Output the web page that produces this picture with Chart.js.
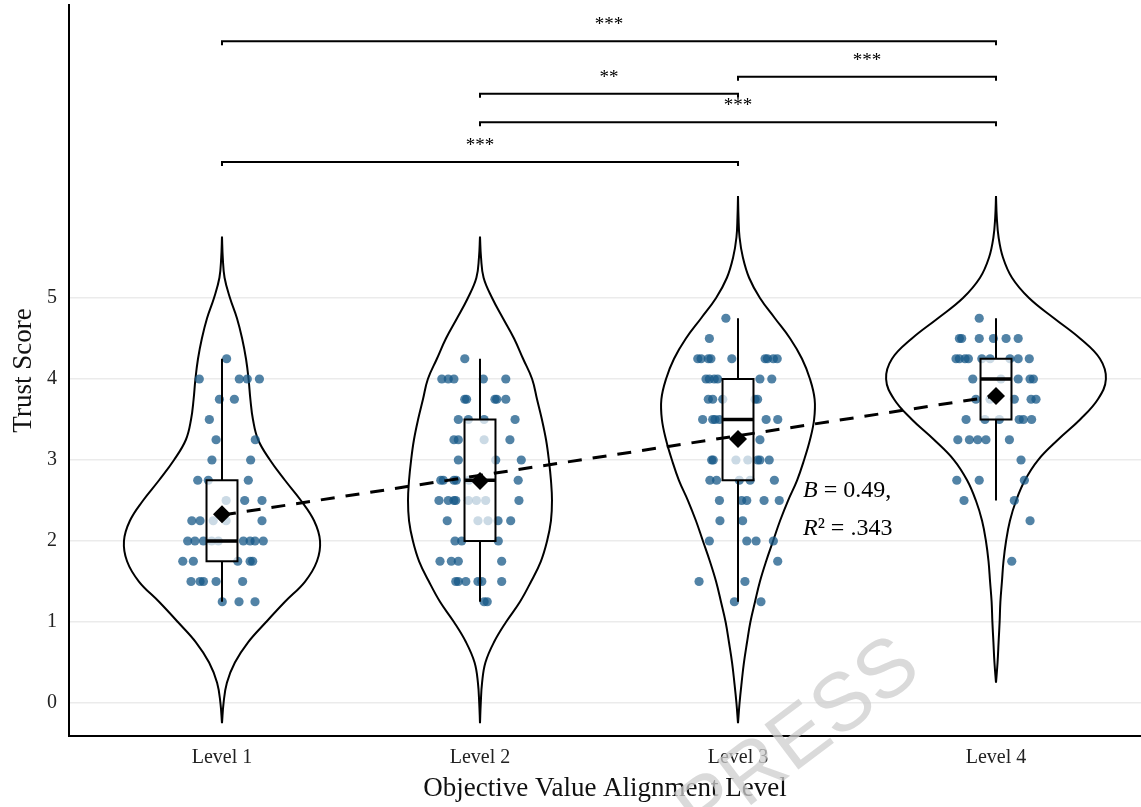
<!DOCTYPE html>
<html>
<head>
<meta charset="utf-8">
<script src="https://cdn.jsdelivr.net/npm/chart.js@4.4.1/dist/chart.umd.min.js"></script>
<style>
  html, body { margin: 0; padding: 0; background: #fff; }
  #wrap { width: 1141px; height: 807px; }
</style>
</head>
<body>
<div id="wrap"><canvas id="trust-chart" width="1141" height="807"></canvas></div>
<script>
const levels = ['Level 1', 'Level 2', 'Level 3', 'Level 4'];
const yTicks = [0, 1, 2, 3, 4, 5];

// individual scores per level + horizontal jitter (in level units)
const l1Score = [4.25, 4, 4, 4, 4, 3.75, 3.75, 3.5, 3.25, 3.25, 3, 3, 2.75, 2.75, 2.75, 2.5, 2.5, 2.5,
  2.25, 2.25, 2.25, 2.25, 2.25, 2, 2, 2, 2, 2, 2, 2, 2, 2, 1.75, 1.75, 1.75, 1.75, 1.75,
  1.5, 1.5, 1.5, 1.5, 1.5, 1.25, 1.25, 1.25];
const l1Jitter = [0.018, -0.088, 0.067, 0.098, 0.145, -0.010, 0.048, -0.049, -0.023, 0.129, -0.039, 0.111,
  -0.094, -0.053, 0.102, 0.016, 0.088, 0.155, -0.117, -0.085, -0.034, 0.016, 0.155,
  -0.133, -0.105, -0.072, -0.040, -0.014, 0.083, 0.109, 0.128, 0.160, -0.152, -0.111, 0.061, 0.109, 0.119,
  -0.120, -0.085, -0.072, -0.023, 0.080, 0.001, 0.066, 0.128];

const l2Score = [4.25, 4, 4, 4, 4, 4, 3.75, 3.75, 3.75, 3.75, 3.75, 3.5, 3.5, 3.5, 3.5, 3.25, 3.25, 3.25, 3.25,
  3, 3, 3, 2.75, 2.75, 2.75, 2.75, 2.75, 2.75, 2.5, 2.5, 2.5, 2.5, 2.5, 2.5, 2.5, 2.5,
  2.25, 2.25, 2.25, 2.25, 2.25, 2, 2, 2, 1.75, 1.75, 1.75, 1.75, 1.5, 1.5, 1.5, 1.5, 1.5, 1.5, 1.25, 1.25];
const l2Jitter = [-0.059, -0.148, -0.123, -0.101, 0.013, 0.100, -0.059, -0.052, 0.058, 0.065, 0.100,
  -0.084, -0.045, 0.016, 0.136, -0.101, -0.084, 0.016, 0.116, -0.084, 0.061, 0.160,
  -0.152, -0.142, -0.101, -0.092, -0.043, 0.148, -0.159, -0.123, -0.101, -0.094, -0.045, -0.014, 0.022, 0.151,
  -0.127, -0.008, 0.031, 0.070, 0.119, -0.097, -0.071, 0.071, -0.155, -0.111, -0.084, 0.084,
  -0.094, -0.084, -0.055, -0.008, 0.007, 0.084, 0.016, 0.028];

const l3Score = [4.75, 4.5, 4.25, 4.25, 4.25, 4.25, 4.25, 4.25, 4.25, 4.25, 4.25, 4, 4, 4, 4, 4, 4,
  3.75, 3.75, 3.75, 3.75, 3.75, 3.5, 3.5, 3.5, 3.5, 3.5, 3.5, 3.25, 3, 3, 3, 3, 3, 3, 3,
  2.75, 2.75, 2.75, 2.75, 2.75, 2.5, 2.5, 2.5, 2.5, 2.5, 2.25, 2.25, 2, 2, 2, 2, 1.75, 1.5, 1.5, 1.25, 1.25];
const l3Jitter = [-0.047, -0.111, -0.156, -0.143, -0.115, -0.105, -0.024, 0.105, 0.114, 0.137, 0.152,
  -0.124, -0.111, -0.092, -0.079, 0.085, 0.131, -0.115, -0.098, -0.059, 0.066, 0.076,
  -0.137, -0.098, -0.089, -0.072, 0.109, 0.154, 0.085, -0.102, -0.096, -0.008, 0.038, 0.076, 0.085, 0.121,
  -0.109, -0.083, 0.005, 0.047, 0.141, -0.072, 0.014, 0.034, 0.101, 0.160, -0.070, 0.018,
  -0.111, 0.034, 0.070, 0.137, 0.154, -0.151, 0.027, -0.014, 0.089];

const l4Score = [4.75, 4.5, 4.5, 4.5, 4.5, 4.5, 4.5, 4.25, 4.25, 4.25, 4.25, 4.25, 4.25, 4.25, 4.25, 4.25,
  4, 4, 4, 4, 4, 3.75, 3.75, 3.75, 3.75, 3.75, 3.5, 3.5, 3.5, 3.5, 3.5, 3.5,
  3.25, 3.25, 3.25, 3.25, 3.25, 3, 2.75, 2.75, 2.75, 2.5, 2.5, 2.25, 1.75];
const l4Jitter = [-0.065, -0.142, -0.133, -0.065, -0.010, 0.039, 0.086,
  -0.155, -0.142, -0.120, -0.107, -0.055, -0.023, 0.054, 0.086, 0.129,
  -0.090, 0.019, 0.086, 0.132, 0.145, -0.078, -0.023, 0.071, 0.136, 0.155,
  -0.116, -0.043, 0.013, 0.090, 0.106, 0.138, -0.148, -0.103, -0.071, -0.039, 0.052,
  0.097, -0.152, -0.065, 0.110, -0.124, 0.071, 0.132, 0.061];

// box plot summaries
const means = [2.33, 2.74, 3.26, 3.79];
const q1 = [1.75, 2.0, 2.75, 3.5];
const medians = [2.0, 2.75, 3.5, 4.0];
const q3 = [2.75, 3.5, 4.0, 4.25];
const whiskerLow = [1.25, 1.25, 1.25, 2.5];
const whiskerHigh = [4.25, 4.25, 4.75, 4.75];

// violin outlines: score grid and density half-width (level units)
const v1Y = [-0.25, 0, 0.25, 0.5, 0.75, 1, 1.25, 1.5, 1.75, 2, 2.25, 2.5, 2.75, 3, 3.25, 3.5, 3.75, 4, 4.25, 4.5, 4.75, 5, 5.25, 5.5, 5.76];
const v1W = [0, 0.006, 0.019, 0.050, 0.101, 0.171, 0.244, 0.322, 0.368, 0.380, 0.357, 0.306, 0.244, 0.186, 0.140, 0.120, 0.110, 0.103, 0.093, 0.078, 0.058, 0.031, 0.010, 0.003, 0];
const v2Y = [-0.25, 0, 0.25, 0.5, 0.75, 1, 1.25, 1.5, 1.75, 2, 2.25, 2.5, 2.75, 3, 3.25, 3.5, 3.75, 4, 4.25, 4.5, 4.75, 5, 5.25, 5.5, 5.76];
const v2W = [0, 0.003, 0.008, 0.021, 0.054, 0.101, 0.155, 0.198, 0.236, 0.260, 0.275, 0.279, 0.275, 0.267, 0.256, 0.240, 0.221, 0.202, 0.167, 0.132, 0.089, 0.047, 0.014, 0.004, 0];
const v3Y = [-0.25, 0, 0.25, 0.5, 0.75, 1, 1.25, 1.5, 1.75, 2, 2.25, 2.5, 2.75, 3, 3.25, 3.5, 3.75, 4, 4.25, 4.5, 4.75, 5, 5.25, 5.5, 5.75, 6, 6.26];
const v3W = [0, 0.006, 0.014, 0.023, 0.035, 0.048, 0.066, 0.085, 0.109, 0.136, 0.163, 0.194, 0.229, 0.256, 0.279, 0.295, 0.297, 0.279, 0.248, 0.202, 0.143, 0.085, 0.043, 0.019, 0.006, 0.002, 0];
const v4Y = [0.25, 0.5, 0.75, 1, 1.25, 1.5, 1.75, 2, 2.25, 2.5, 2.75, 3, 3.25, 3.5, 3.75, 4, 4.25, 4.5, 4.75, 5, 5.25, 5.5, 5.75, 6, 6.26];
const v4W = [0, 0.006, 0.010, 0.014, 0.017, 0.023, 0.029, 0.039, 0.054, 0.078, 0.112, 0.163, 0.240, 0.326, 0.395, 0.426, 0.403, 0.326, 0.225, 0.128, 0.062, 0.027, 0.010, 0.003, 0];

// linear trend through the group means
const regX = [1, 4];
const regY = [2.32, 3.79];

// pairwise comparison brackets
const bracketFrom = [1, 3, 2, 2, 1];
const bracketTo = [4, 4, 3, 4, 3];
const bracketY = [8.17, 7.73, 7.52, 7.17, 6.68];
const bracketLabels = ['***', '***', '**', '***', '***'];

const serif = "'Liberation Serif', 'Times New Roman', serif";
const POINTS = 4;

function violin(level, ys, ws) {
  const right = ys.map((y, i) => ({x: level + ws[i], y: y}));
  const left = ys.map((y, i) => ({x: level - ws[i], y: y})).reverse();
  return right.concat([{x: null, y: null}], left);
}

function jitterPoints() {
  const sets = [[l1Score, l1Jitter], [l2Score, l2Jitter], [l3Score, l3Jitter], [l4Score, l4Jitter]];
  const pts = [];
  sets.forEach(([s, j], i) => s.forEach((v, k) => pts.push({x: i + 1 + j[k], y: v})));
  return pts;
}

const boxPlugin = {
  id: 'boxes',
  afterDatasetDraw(chart, args) {
    if (args.index !== POINTS) return;
    const {ctx, scales: {x, y}} = chart;
    const half = 0.06;
    ctx.save();
    ctx.strokeStyle = '#000';
    levels.forEach((_, i) => {
      const c = i + 1;
      const xl = x.getPixelForValue(c - half), xr = x.getPixelForValue(c + half), xc = x.getPixelForValue(c);
      const yq1 = y.getPixelForValue(q1[i]), yq3 = y.getPixelForValue(q3[i]);
      ctx.lineWidth = 2;
      ctx.beginPath();
      ctx.moveTo(xc, y.getPixelForValue(whiskerHigh[i])); ctx.lineTo(xc, yq3);
      ctx.moveTo(xc, yq1); ctx.lineTo(xc, y.getPixelForValue(whiskerLow[i]));
      ctx.stroke();
      ctx.fillStyle = 'rgba(255,255,255,0.7)';
      ctx.fillRect(xl, yq3, xr - xl, yq1 - yq3);
      ctx.strokeRect(xl, yq3, xr - xl, yq1 - yq3);
      ctx.lineWidth = 3.5;
      const ym = y.getPixelForValue(medians[i]);
      ctx.beginPath(); ctx.moveTo(xl, ym); ctx.lineTo(xr, ym); ctx.stroke();
    });
    ctx.restore();
  }
};

const notesPlugin = {
  id: 'notes',
  afterDraw(chart) {
    const {ctx, scales: {x, y}} = chart;
    ctx.save();
    // comparison brackets
    ctx.strokeStyle = '#000';
    ctx.fillStyle = '#000';
    ctx.lineWidth = 2;
    ctx.font = '19px ' + serif;
    ctx.textAlign = 'center';
    ctx.textBaseline = 'alphabetic';
    bracketFrom.forEach((f, i) => {
      const xa = x.getPixelForValue(f), xb = x.getPixelForValue(bracketTo[i]), yy = y.getPixelForValue(bracketY[i]);
      ctx.beginPath();
      ctx.moveTo(xa, yy + 4); ctx.lineTo(xa, yy); ctx.lineTo(xb, yy); ctx.lineTo(xb, yy + 4);
      ctx.stroke();
      ctx.fillText(bracketLabels[i], (xa + xb) / 2, yy - 11);
    });
    // regression note
    ctx.textAlign = 'left';
    const nx = x.getPixelForValue(3.252);
    const put = (parts, yv) => {
      let cx = nx;
      const yy = y.getPixelForValue(yv);
      parts.forEach(([t, it]) => {
        ctx.font = (it ? 'italic ' : '') + '24px ' + serif;
        ctx.fillText(t, cx, yy);
        cx += ctx.measureText(t).width;
      });
    };
    put([['B', true], [' = 0.49,', false]], 2.54);
    put([['R', true], ['\u00B2 = .343', false]], 2.08);
    // watermark
    ctx.translate(702, 842);
    ctx.rotate(-37 * Math.PI / 180);
    ctx.font = "82px 'Liberation Sans', Arial, sans-serif";
    ctx.fillStyle = 'rgba(205,205,205,0.75)';
    ctx.fillText('PRESS', 0, 0);
    ctx.restore();
  }
};

const violinColors = {borderColor: '#000', borderWidth: 2, pointRadius: 0, showLine: true, tension: 0.4, fill: false, spanGaps: false, order: 10};

const datasets = [
  Object.assign({data: violin(1, v1Y, v1W)}, violinColors),
  Object.assign({data: violin(2, v2Y, v2W)}, violinColors),
  Object.assign({data: violin(3, v3Y, v3W)}, violinColors),
  Object.assign({data: violin(4, v4Y, v4W)}, violinColors),
  {data: jitterPoints(), pointRadius: 4.6, pointBorderWidth: 0, backgroundColor: 'rgba(22,88,135,0.74)', order: 9},
  {data: means.map((m, i) => ({x: i + 1, y: m})), pointStyle: 'rectRot', pointRadius: 9, pointBorderWidth: 0, backgroundColor: '#000', order: 2},
  {data: regX.map((v, i) => ({x: v, y: regY[i]})), showLine: true, borderColor: '#000', borderWidth: 3,
   borderDash: [14, 11], pointRadius: 0, order: 1}
];

new Chart(document.getElementById('trust-chart'), {
  type: 'scatter',
  data: {datasets: datasets},
  options: {
    responsive: false,
    devicePixelRatio: 1,
    animation: false,
    layout: {autoPadding: false, padding: {top: 5, right: 0, bottom: 0, left: 0}},
    plugins: {legend: {display: false}, tooltip: {enabled: false}},
    scales: {
      x: {
        type: 'linear', min: 0.407, max: 4.562,
        afterBuildTicks: s => { s.ticks = levels.map((_, i) => ({value: i + 1})); },
        afterFit: s => { s.height = 71; s.paddingLeft = 0; s.paddingRight = 0; },
        grid: {display: false, drawTicks: false},
        border: {display: true, color: '#000', width: 2},
        ticks: {callback: v => levels[v - 1], font: {family: serif, size: 20}, color: '#222', padding: 10, maxRotation: 0, autoSkip: false},
        title: {display: true, text: 'Objective Value Alignment Level', font: {family: serif, size: 27}, color: '#111', padding: {top: 0, bottom: 2}}
      },
      y: {
        min: -0.407, max: 8.617,
        afterBuildTicks: s => { s.ticks = yTicks.map(v => ({value: v})); },
        afterFit: s => { s.width = 69; s.paddingTop = 0; s.paddingBottom = 0; },
        grid: {color: '#ebebeb', lineWidth: 1.5, drawTicks: false},
        border: {display: true, color: '#000', width: 2},
        ticks: {font: {family: serif, size: 20}, color: '#222', padding: 12},
        title: {display: true, text: 'Trust Score', font: {family: serif, size: 27}, color: '#111', padding: {top: 8, bottom: 0}}
      }
    }
  },
  plugins: [boxPlugin, notesPlugin]
});
</script>
</body>
</html>
